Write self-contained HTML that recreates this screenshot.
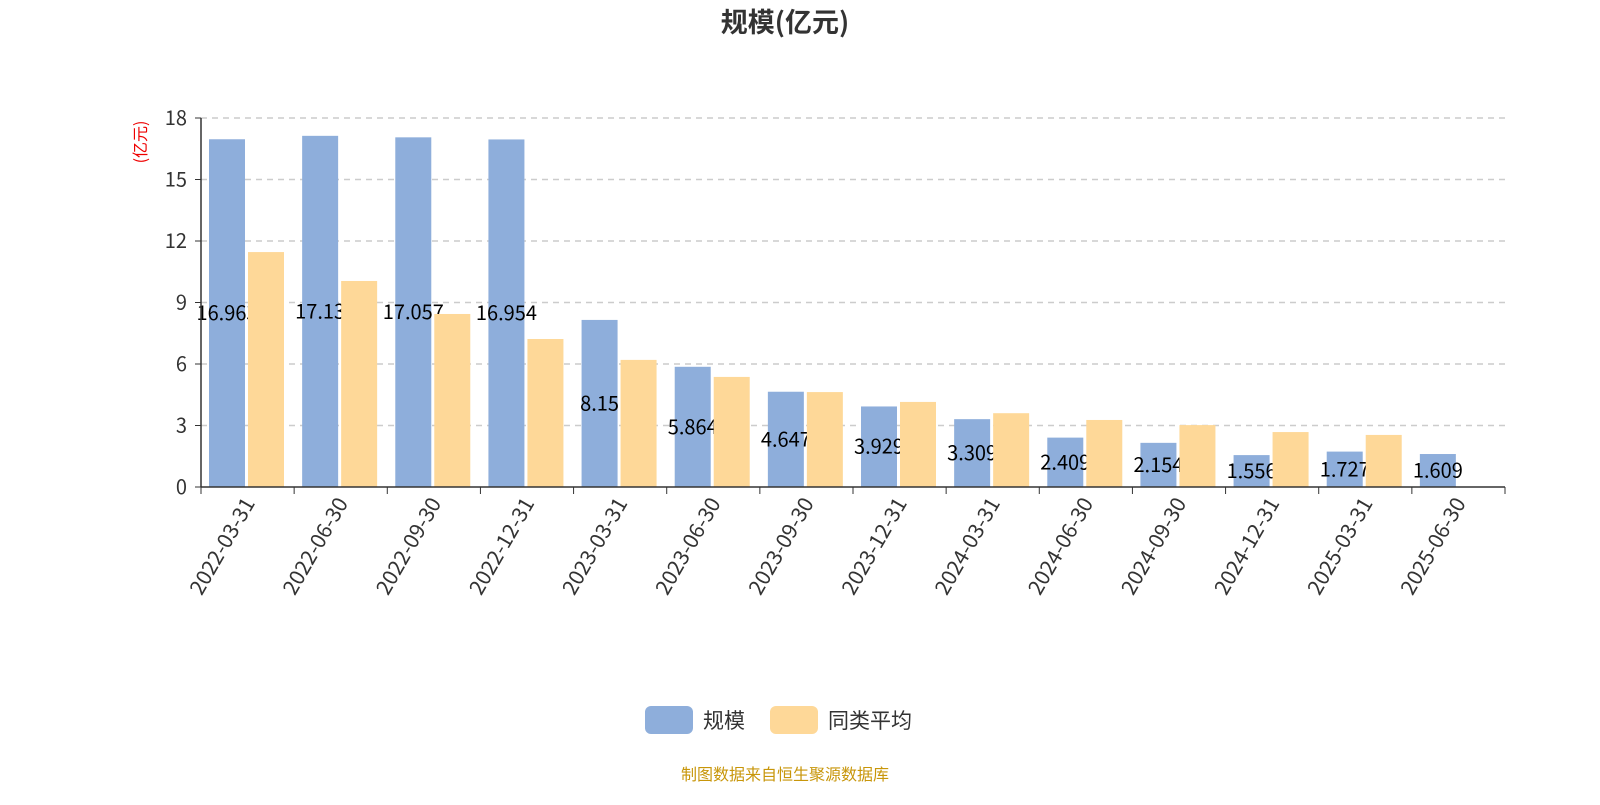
<!DOCTYPE html>
<html><head><meta charset="utf-8"><style>
body{margin:0;background:#fff;width:1600px;height:800px;overflow:hidden;font-family:"Noto Sans CJK SC","Liberation Sans",sans-serif}
</style></head><body>
<svg id="chart" width="1600" height="800" xmlns="http://www.w3.org/2000/svg" font-family="Noto Sans CJK SC, Liberation Sans, sans-serif">
<text x="785" y="32" text-anchor="middle" font-size="27" font-weight="bold" fill="#333">规模(亿元)</text>
<text transform="translate(146,142) rotate(-90)" text-anchor="middle" font-size="16" fill="#e00">(亿元)</text>
<g id="grid"></g><g id="bars"></g><g id="axes"></g>
<g>
<g><rect x="645" y="706" width="48" height="28" rx="6" fill="#8eaedb"/><text x="703" y="728" font-size="21" fill="#333">规模</text></g>
<g><rect x="770" y="706" width="48" height="28" rx="6" fill="#fed898"/><text x="828" y="728" font-size="21" fill="#333">同类平均</text></g>
</g>
<text x="785" y="780" text-anchor="middle" font-size="16" fill="#c8960a">制图数据来自恒生聚源数据库</text>
</svg>
<script>
const categories=["2022-03-31","2022-06-30","2022-09-30","2022-12-31","2023-03-31","2023-06-30","2023-09-30","2023-12-31","2024-03-31","2024-06-30","2024-09-30","2024-12-31","2025-03-31","2025-06-30"];
const scaleValues=[16.963,17.13,17.057,16.954,8.15,5.864,4.647,3.929,3.309,2.409,2.154,1.556,1.727,1.609];
const avgValues=[11.46,10.05,8.44,7.22,6.2,5.37,4.63,4.15,3.6,3.27,3.02,2.68,2.54,null];
const yTicks=[0,3,6,9,12,15,18];
const NS="http://www.w3.org/2000/svg";
const x0=201,x1=1505,yTop=118,yBot=487,yMax=18;
const band=(x1-x0)/categories.length;
const y=v=>yBot-(v/yMax)*(yBot-yTop);
function mk(tag,attrs,parent,txt){const e=document.createElementNS(NS,tag);for(const k in attrs)e.setAttribute(k,attrs[k]);if(txt!==undefined)e.textContent=txt;parent.appendChild(e);return e;}
const grid=document.getElementById('grid'),bars=document.getElementById('bars'),axes=document.getElementById('axes');
yTicks.forEach(t=>{
  if(t>0){const l=mk('line',{x1:x0,x2:x1,y1:y(t),y2:y(t),stroke:'#ccc','stroke-dasharray':'6,5','stroke-width':1.5},grid);
  
  }
  const tl=mk('text',{x:x0-14,y:y(t)+7,'text-anchor':'end','font-size':20,fill:'#333'},axes,t);
  
  
  mk('line',{x1:x0-6,x2:x0,y1:y(t),y2:y(t),stroke:'#333'},axes);
});
categories.forEach((c,i)=>{
  const bx=x0+i*band+8;
  const b=mk('rect',{x:bx,y:y(scaleValues[i]),width:36,height:yBot-y(scaleValues[i]),fill:'#8eaedb'},bars);
  
  
});
const labelG=mk('g',{},bars);
categories.forEach((c,i)=>{
  const bx=x0+i*band+8;
  const lb=mk('text',{x:bx+18,y:(y(scaleValues[i])+yBot)/2+7,'text-anchor':'middle','font-size':20,fill:'#000'},labelG,scaleValues[i]);
  
  
});
categories.forEach((c,i)=>{
  const bx=x0+i*band+47;
  if(avgValues[i]!=null){
  const b=mk('rect',{x:bx,y:y(avgValues[i]),width:36,height:yBot-y(avgValues[i]),fill:'#fed898'},bars);
  
  }
  const cx=x0+(i+0.5)*band;
  const tl=mk('text',{transform:`translate(${cx+8},${yBot+16}) rotate(-60)`,'text-anchor':'end','font-size':21,fill:'#333'},axes,c);
  
  
});
for(let i=0;i<=categories.length;i++){mk('line',{x1:x0+i*band,x2:x0+i*band,y1:yBot,y2:yBot+7,stroke:'#333'},axes);}
const xa=mk('line',{x1:x0,x2:x1,y1:yBot,y2:yBot,stroke:'#333','stroke-width':1.5},axes);


const ya=mk('line',{x1:x0,x2:x0,y1:yTop,y2:yBot,stroke:'#333','stroke-width':1.5},axes);


</script>
</body></html>
